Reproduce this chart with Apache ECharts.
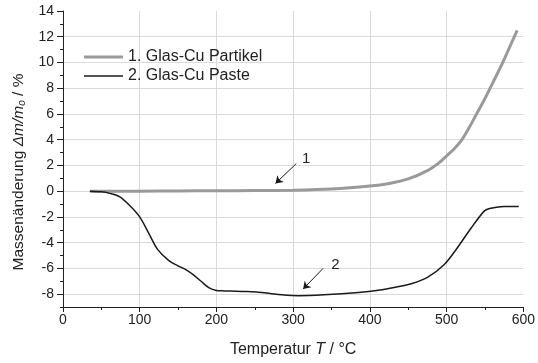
<!DOCTYPE html>
<html>
<head>
<meta charset="utf-8">
<script src="https://cdn.jsdelivr.net/npm/echarts@6/dist/echarts.min.js"></script>
<style>
  html, body { margin: 0; padding: 0; background: #fff; }
  #chart { width: 538px; height: 363px; }
</style>
</head>
<body>
<div id="chart"></div>
<script>
// Thermogravimetry: mass change vs. temperature
const seriesNames = ['1. Glas-Cu Partikel', '2. Glas-Cu Paste'];

const tempParticles = [35, 100, 150, 200, 250, 300, 350, 400, 425, 450, 475, 490, 500, 510, 520, 530, 540, 550, 560, 570, 580, 592];
const massParticles = [0, 0, 0.02, 0.03, 0.05, 0.08, 0.17, 0.4, 0.6, 0.95, 1.6, 2.2, 2.75, 3.3, 4.0, 5.0, 6.1, 7.2, 8.4, 9.6, 10.9, 12.5];

const tempPaste = [35, 50, 60, 73, 86, 100, 112, 123, 138, 150, 160, 170, 180, 190, 200, 210, 225, 240, 255, 270, 285, 307, 340, 385, 411, 435, 454, 475, 497, 514, 532, 549, 556, 565, 575, 594];
const massPaste = [0, -0.05, -0.15, -0.4, -1.05, -2.0, -3.3, -4.5, -5.4, -5.8, -6.1, -6.5, -7.0, -7.5, -7.72, -7.75, -7.77, -7.8, -7.85, -7.95, -8.05, -8.12, -8.05, -7.87, -7.7, -7.45, -7.2, -6.7, -5.7, -4.4, -2.86, -1.55, -1.35, -1.25, -1.2, -1.2];

// Axis ticks
const xTicks = [0, 100, 200, 300, 400, 500, 600];
const xGrid = [100, 200, 300, 400, 500];
const yMajor = [-8, -6, -4, -2, 0, 2, 4, 6, 8, 10, 12, 14];
const yMinor = [-9, -7, -5, -3, -1, 1, 3, 5, 7, 9, 11, 13];
const yGrid = [-8, -6, -4, -2, 0, 2, 4, 6, 8, 10, 12];

// Curve annotations: arrow [from, to] and number label
const arrow1 = [[304, 2.14], [277, 0.6]];
const label1 = [317, 2.5];
const arrow2 = [[339, -6.0], [313, -7.6]];
const label2 = [355, -5.7];

const pairs = (xs, ys) => xs.map((x, i) => [x, ys[i]]);

const FONT = '"Liberation Sans", Arial, sans-serif';
const gridColor = '#dadada';
const axisColor = '#222';
const textColor = '#222';
const colorParticles = '#9a9a9a';
const colorPaste = '#1a1a1a';

const chart = echarts.init(document.getElementById('chart'), null, { renderer: 'canvas' });

const numberMark = (pos, text) => ({
  coord: pos,
  value: text,
  symbol: 'rect',
  symbolSize: 1,
  itemStyle: { color: 'rgba(0,0,0,0)' },
  label: { show: true, position: 'inside', formatter: text, fontSize: 15, color: textColor, fontFamily: FONT }
});

// one legend per series so each icon keeps its own line thickness
const legendEntry = (name, top, thickness) => ({
  orient: 'vertical',
  left: 79,
  top: top,
  icon: 'rect',
  itemWidth: 39,
  itemHeight: thickness,
  textStyle: { fontSize: 16, color: textColor, fontFamily: FONT },
  data: [name]
});

chart.setOption({
  animation: false,
  backgroundColor: '#fff',
  grid: { left: 63, right: 12, top: 11, bottom: 53, containLabel: false },
  legend: [
    legendEntry(seriesNames[0], 44, 3),
    legendEntry(seriesNames[1], 63, 1.5)
  ],
  xAxis: [
    {
      type: 'value', min: 0, max: 600, interval: 100,
      name: 'Temperatur {i|T} / °C',
      nameLocation: 'middle', nameGap: 35,
      nameTextStyle: {
        fontSize: 16, color: textColor, fontFamily: FONT,
        rich: { i: { fontSize: 16, fontStyle: 'italic', color: textColor, fontFamily: FONT } }
      },
      axisLine: { show: true, onZero: false, lineStyle: { color: axisColor, width: 1 } },
      axisTick: { show: true, length: 5, customValues: xTicks, lineStyle: { color: axisColor } },
      minorTick: { show: true, splitNumber: 2, length: 3, lineStyle: { color: axisColor } },
      axisLabel: { fontSize: 14, color: textColor, fontFamily: FONT, margin: 6, customValues: xTicks },
      splitLine: { show: false }
    },
    {
      type: 'value', min: 0, max: 600, position: 'bottom',
      axisLine: { show: false }, axisLabel: { show: false },
      axisTick: { show: false, customValues: xGrid },
      splitLine: { show: true, lineStyle: { color: gridColor, width: 1 } }
    }
  ],
  yAxis: [
    {
      type: 'value', min: -9, max: 14,
      name: 'Massenänderung {i|Δm/m}{s|o}{i| }/ %',
      nameLocation: 'middle', nameGap: 33,
      nameTextStyle: {
        fontSize: 15.5, color: textColor, fontFamily: FONT,
        padding: [0, 26, 0, 0],
        rich: {
          i: { fontSize: 15.5, fontStyle: 'italic', color: textColor, fontFamily: FONT },
          s: { fontSize: 10, fontStyle: 'italic', color: textColor, fontFamily: FONT, verticalAlign: 'bottom', padding: [7, 0, 0, 0] }
        }
      },
      axisLine: { show: true, onZero: false, lineStyle: { color: axisColor, width: 1 } },
      axisTick: { show: true, length: 6, customValues: yMajor, lineStyle: { color: axisColor } },
      axisLabel: { fontSize: 14, color: textColor, fontFamily: FONT, margin: 9, customValues: yMajor },
      splitLine: { show: false }
    },
    {
      type: 'value', min: -9, max: 14, position: 'left',
      axisLine: { show: false }, axisLabel: { show: false },
      axisTick: { show: false, customValues: yGrid },
      splitLine: { show: true, lineStyle: { color: gridColor, width: 1 } }
    },
    {
      type: 'value', min: -9, max: 14, position: 'left',
      axisLine: { show: false }, axisLabel: { show: false },
      axisTick: { show: true, length: 3, customValues: yMinor, lineStyle: { color: axisColor } },
      splitLine: { show: false }
    }
  ],
  series: [
    {
      name: seriesNames[0],
      type: 'line',
      data: pairs(tempParticles, massParticles),
      smooth: 0.3,
      showSymbol: false,
      symbol: 'none',
      lineStyle: { color: colorParticles, width: 3 },
      itemStyle: { color: colorParticles },
      z: 3
    },
    {
      name: seriesNames[1],
      type: 'line',
      data: pairs(tempPaste, massPaste),
      smooth: 0.3,
      showSymbol: false,
      symbol: 'none',
      lineStyle: { color: colorPaste, width: 1.5 },
      itemStyle: { color: colorPaste },
      z: 4,
      markLine: {
        silent: true,
        symbol: ['none', 'arrow'],
        symbolSize: 7,
        label: { show: false },
        lineStyle: { color: colorPaste, width: 1, type: 'solid' },
        data: [
          [{ coord: arrow1[0] }, { coord: arrow1[1] }],
          [{ coord: arrow2[0] }, { coord: arrow2[1] }]
        ]
      },
      markPoint: {
        silent: true,
        data: [numberMark(label1, '1'), numberMark(label2, '2')]
      }
    }
  ]
});
</script>
</body>
</html>
